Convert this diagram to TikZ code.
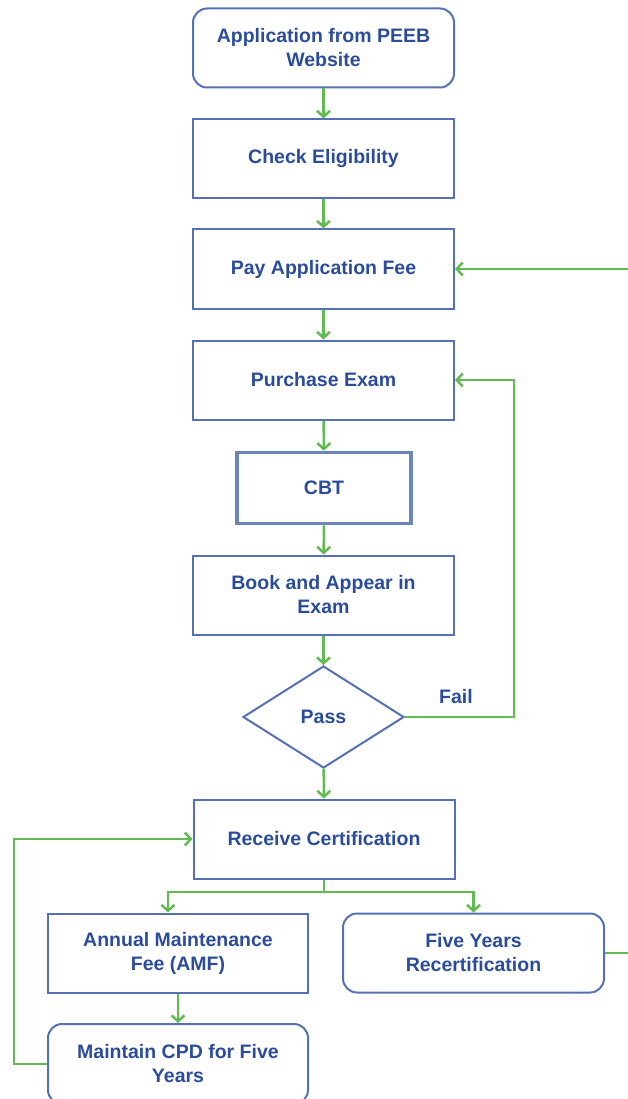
\documentclass[tikz,border=0pt]{standalone}
\usepackage{fontspec}
\setmainfont{Liberation Sans}
\usetikzlibrary{shapes.geometric,arrows.meta}

\definecolor{txtblue}{HTML}{2B4C9B}
\definecolor{boxblue}{HTML}{5670B8}
\definecolor{cbtblue}{HTML}{6C86BA}
\definecolor{flowgreen}{HTML}{62BB52}

\tikzset{
  stepbox/.style={draw=boxblue, line width=2pt, minimum width=261pt,
    minimum height=79pt, inner sep=2pt, align=center, text=txtblue,
    font=\bfseries\fontsize{19.5}{24}\selectfont},
  roundbox/.style={stepbox, rounded corners=14pt},
  flow/.style={draw=flowgreen, line width=2.5pt,
    -{Straight Barb[length=6pt,width=13pt,line width=2.5pt]}}
}

\begin{document}
\begin{tikzpicture}[x=1pt,y=-1pt]

\useasboundingbox (0,0) rectangle (627,1099);

% Main column
\node[roundbox] (app) at (323.5,48) {Application from PEEB\\Website};
\node[stepbox] (elig) at (323.5,159) {Check Eligibility};
\node[stepbox] (pay) at (323.5,269) {Pay Application Fee};
\node[stepbox] (purch) at (323.5,380) {Purchase Exam};
\node[stepbox, draw=cbtblue, line width=3.5pt, minimum width=174pt,
  minimum height=71pt] (cbt) at (324,488) {CBT};
\node[stepbox] (book) at (323.5,595) {Book and Appear in\\Exam};

% Decision
\node[stepbox, diamond, minimum width=161pt, minimum height=102pt,
  inner sep=0pt] (pass) at (323.5,717) {Pass};
\node[text=txtblue, font=\bfseries\fontsize{19.5}{24}\selectfont]
  (fail) at (456,697) {Fail};

% After passing
\node[stepbox] (recv) at (324,839) {Receive Certification};
\node[stepbox, minimum width=260pt] (amf) at (178,953) {Annual Maintenance\\Fee (AMF)};
\node[roundbox] (five) at (473.5,953) {Five Years\\Recertification};
\node[roundbox, minimum width=260pt, minimum height=80pt] (cpd) at (178,1064)
  {Maintain CPD for Five\\Years};

\coordinate (split) at (324,892);

% Straight flow
\draw[flow] (app) -- (elig);
\draw[flow] (elig) -- (pay);
\draw[flow] (pay) -- (purch);
\draw[flow] (purch) -- (cbt);
\draw[flow] (cbt) -- (book);
\draw[flow] (book) -- (pass);
\draw[flow] (pass) -- (recv);

% Fail loop
\draw[flow] (pass.east) -- ++(109,0) |- (purch.east);

% Branch below certification
\draw[flow, -] (recv.south) -- (split);
\draw[flow] (split) -| ([xshift=-10pt]amf.north);
\draw[flow] (split) -| (five.north);
\draw[flow] (amf) -- (cpd);

% Loops back
\draw[flow] (cpd.west) -- ++(-33,0) |- (recv.west);
\draw[flow] (five.east) -- ++(40,0) |- (pay.east);

\end{tikzpicture}
\end{document}
